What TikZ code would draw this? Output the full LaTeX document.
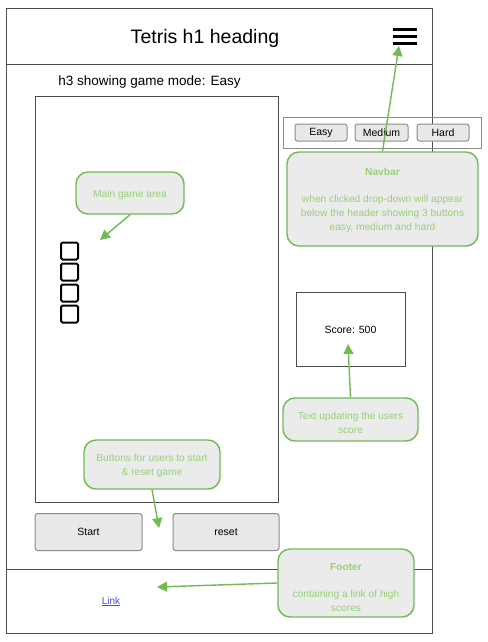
\documentclass[tikz,border=0pt]{standalone}
\usepackage{fontspec}
\setmainfont{Liberation Sans}
\usetikzlibrary{arrows.meta}
\definecolor{framegray}{HTML}{4D4D4D}
\definecolor{btngray}{HTML}{8C8C8C}
\definecolor{btnfill}{HTML}{E8E8E8}
\definecolor{callgreen}{HTML}{70BC52}
\definecolor{callfill}{HTML}{EBEBEB}
\definecolor{calltext}{HTML}{97D077}
\definecolor{linkblue}{HTML}{3D4FE0}

\tikzset{
    callout/.style={draw=callgreen,line width=1.4pt,fill=callfill,rounded corners=12pt,inner sep=0pt},
    notetext/.style={text=calltext,font=\fontsize{10.2}{14}\selectfont,align=center,inner sep=0pt},
    btn/.style={draw=btngray,line width=1pt,fill=btnfill,rounded corners=2.5pt,inner sep=0pt,
        font=\fontsize{10.5}{12}\selectfont},
    pointer/.style={draw=callgreen,line width=1.4pt,-{Triangle[length=10pt,width=10pt]}},
    block/.style={draw=black,line width=2pt,rounded corners=1.5pt,minimum size=17pt,inner sep=0pt}
}

\begin{document}
\begin{tikzpicture}[x=1pt,y=-1pt]
    \useasboundingbox (0,0) rectangle (487,642);
    % page frame, header and footer
    \draw[framegray,line width=0.9pt] (6,8) rectangle (432,633);
    \draw[framegray,line width=0.9pt] (6,64) -- (432,64);
    \draw[framegray,line width=0.9pt] (6,569) -- (432,569);
    \node[font=\fontsize{19.5}{22}\selectfont] (title) at (205,38.5) {Tetris h1 heading};
    \draw[line width=3pt] (393,30) -- (417,30);
    \draw[line width=3pt] (393,37) -- (417,37);
    \draw[line width=3pt] (393,44) -- (417,44);
    \coordinate (menu) at (399,46);
    \node[font=\fontsize{13.5}{16}\selectfont] (mode) at (149.5,82) {h3 showing game mode: Easy};

    % game area and tetris piece
    \draw[framegray,line width=0.8pt] (35,96) rectangle (278.5,502);
    \node[block] (b1) at (69.5,251) {};
    \node[block] (b2) at (69.5,272) {};
    \node[block] (b3) at (69.5,293) {};
    \node[block] (b4) at (69.5,314) {};
    \coordinate (piece) at (100,240);

    % drop-down buttons
    \draw[btngray,line width=0.9pt] (283,117) rectangle (481,148);
    \node[btn,minimum width=52pt,minimum height=17pt] (easy) at (321,132.5) {Easy};
    \node[btn,minimum width=53pt,minimum height=17pt] (medium) at (381.5,132.5) {Medium};
    \node[btn,minimum width=52pt,minimum height=17pt] (hard) at (443,132.5) {Hard};

    % score
    \node[draw=framegray,line width=0.8pt,minimum width=109pt,minimum height=74pt,
        font=\fontsize{10.5}{12}\selectfont] (score) at (350.5,329.5) {Score: 500};
    \coordinate (scoretip) at (348,344);

    % start and reset
    \node[btn,minimum width=107pt,minimum height=37pt] (start) at (88.5,532) {Start};
    \node[btn,minimum width=106pt,minimum height=37pt] (reset) at (226,532) {reset};
    \coordinate (gap) at (159,528);

    % footer link
    \node[text=linkblue,font=\fontsize{10}{12}\selectfont] (link) at (111,601.5) {\underline{Link}};
    \coordinate (linktip) at (157,587);

    % notes
    \node[callout,minimum width=191pt,minimum height=94pt] (navnote) at (382.5,199) {};
    \node[notetext] at ([yshift=-1pt]navnote)
        {\textbf{Navbar}\\[13pt]when clicked drop-down will appear\\below the header showing 3 buttons\\easy, medium and hard};
    \node[callout,minimum width=108pt,minimum height=42pt] (mainnote) at (130,193) {};
    \node[notetext] at ([yshift=-2pt]mainnote) {Main game area};
    \node[callout,minimum width=135pt,minimum height=43pt] (scorenote) at (350.5,419.5) {};
    \node[notetext] at ([yshift=-3pt]scorenote) {Text updating the users\\score};
    \node[callout,minimum width=136pt,minimum height=49pt] (btnnote) at (152,464.5) {};
    \node[notetext] at ([yshift=-1.5pt]btnnote) {Buttons for users to start\\\& reset game};
    \node[callout,minimum width=136pt,minimum height=68pt] (footnote) at (346,583) {};
    \node[notetext] at ([yshift=-5pt]footnote) {\textbf{Footer}\\[13pt]containing a link of high\\scores};

    \draw[pointer] (navnote.north) -- (menu);
    \draw[pointer] (mainnote.south) -- (piece);
    \draw[pointer] (scorenote.north) -- (scoretip);
    \draw[pointer] (btnnote.south) -- (gap);
    \draw[pointer] (footnote.west) -- (linktip);
\end{tikzpicture}
\end{document}
